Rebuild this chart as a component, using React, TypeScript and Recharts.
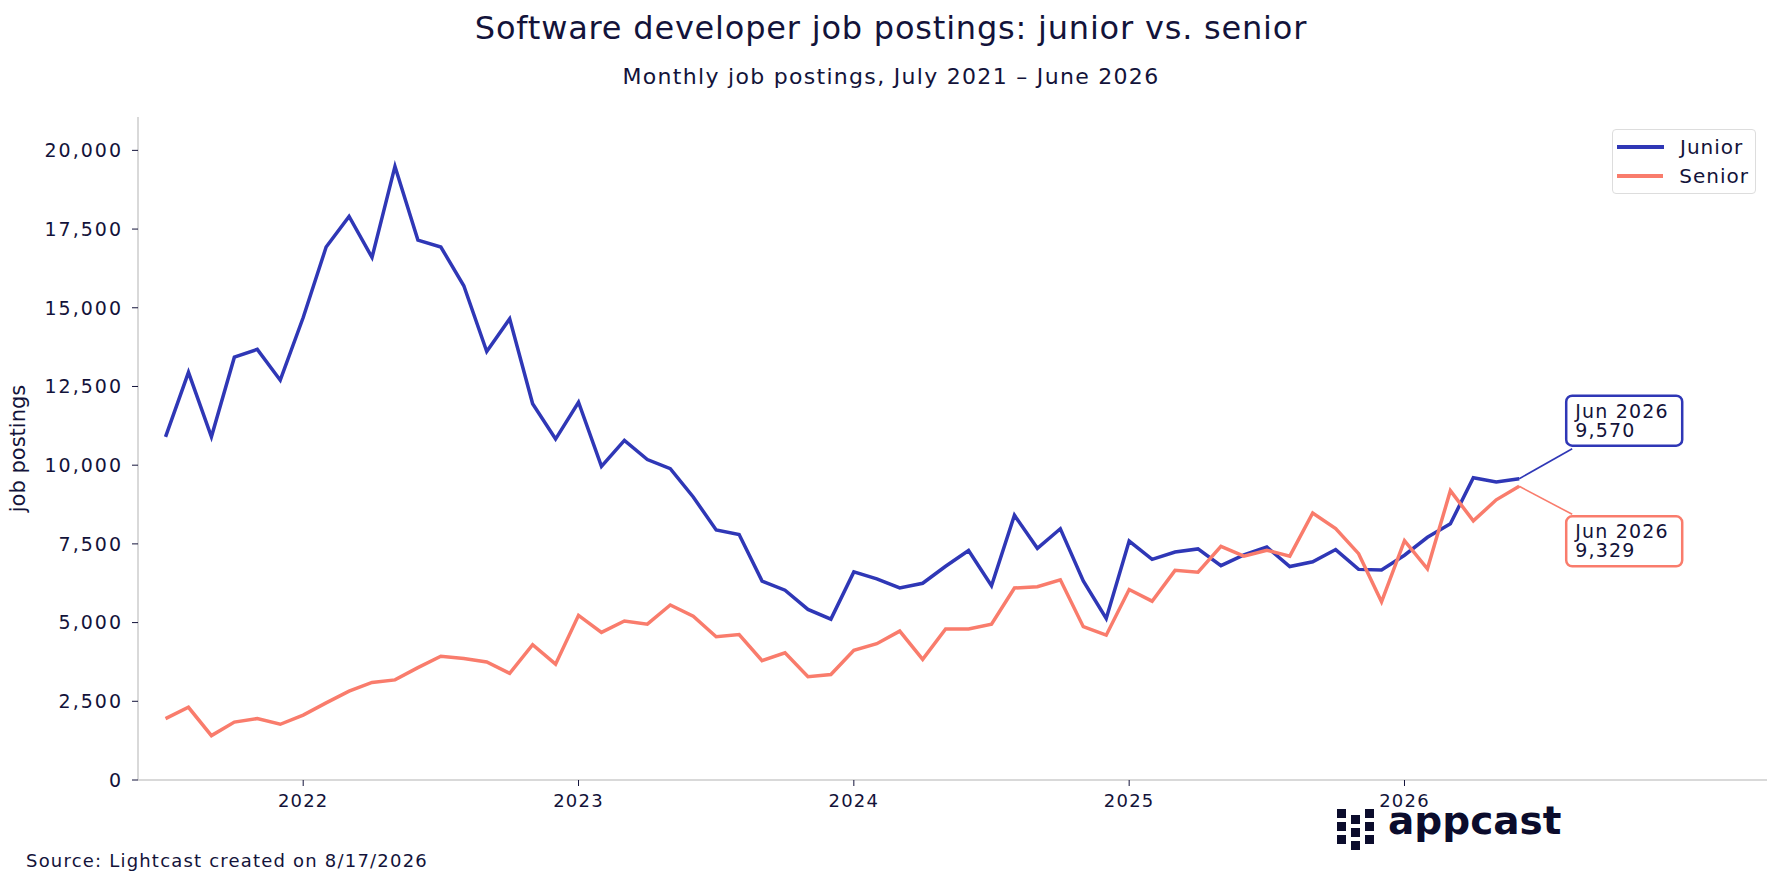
import { LineChart, Line, XAxis, YAxis, Legend } from 'recharts';

const monthLabels = [
    'Jul 2021', 'Aug 2021', 'Sep 2021', 'Oct 2021', 'Nov 2021', 'Dec 2021',
    'Jan 2022', 'Feb 2022', 'Mar 2022', 'Apr 2022', 'May 2022', 'Jun 2022',
    'Jul 2022', 'Aug 2022', 'Sep 2022', 'Oct 2022', 'Nov 2022', 'Dec 2022',
    'Jan 2023', 'Feb 2023', 'Mar 2023', 'Apr 2023', 'May 2023', 'Jun 2023',
    'Jul 2023', 'Aug 2023', 'Sep 2023', 'Oct 2023', 'Nov 2023', 'Dec 2023',
    'Jan 2024', 'Feb 2024', 'Mar 2024', 'Apr 2024', 'May 2024', 'Jun 2024',
    'Jul 2024', 'Aug 2024', 'Sep 2024', 'Oct 2024', 'Nov 2024', 'Dec 2024',
    'Jan 2025', 'Feb 2025', 'Mar 2025', 'Apr 2025', 'May 2025', 'Jun 2025',
    'Jul 2025', 'Aug 2025', 'Sep 2025', 'Oct 2025', 'Nov 2025', 'Dec 2025',
    'Jan 2026', 'Feb 2026', 'Mar 2026', 'Apr 2026', 'May 2026', 'Jun 2026',
];

const junior = [
    10900, 12950, 10900, 13430, 13680, 12700,
    14690, 16930, 17900, 16600, 19490, 17150,
    16930, 15700, 13610, 14650, 11950, 10830,
    12000, 9960, 10790, 10180, 9890, 8990,
    7940, 7800, 6320, 6030, 5420, 5110,
    6610, 6390, 6100, 6250, 6790, 7290,
    6170, 8410, 7360, 7980, 6320, 5130,
    7590, 7010, 7240, 7340, 6810, 7150,
    7400, 6780, 6930, 7320, 6690, 6670,
    7140, 7710, 8140, 9600, 9470, 9570,
];

const senior = [
    1950, 2310, 1410, 1840, 1950, 1770,
    2060, 2450, 2820, 3100, 3180, 3570,
    3930, 3860, 3750, 3390, 4300, 3680,
    5230, 4690, 5050, 4950, 5560, 5200,
    4550, 4620, 3790, 4040, 3280, 3350,
    4120, 4330, 4730, 3830, 4800, 4800,
    4950, 6100, 6140, 6360, 4870, 4600,
    6050, 5680, 6660, 6600, 7420, 7110,
    7300, 7110, 8480, 7990, 7190, 5660,
    7600, 6710, 9190, 8230, 8900, 9329,
];

const yearLabels = ['2022', '2023', '2024', '2025', '2026'];
const yTicks = [0, 2500, 5000, 7500, 10000, 12500, 15000, 17500, 20000];

const JUNIOR = '#2f37b6';
const SENIOR = '#f97c6c';
const INK = '#13133a';
const FONT = '"DejaVu Sans", sans-serif';

const data = monthLabels.map((label, i) => ({ m: i, label, junior: junior[i], senior: senior[i] }));
const yearTicks = yearLabels.map(y => monthLabels.indexOf(`Jan ${y}`));
const last = monthLabels.length - 1;

// call-out box attached to the final point of a series
const EndLabel = (props: any) => {
    const { x, y, index, value, color, up } = props;
    if (index !== last || x == null || y == null) return null;
    const ex = x + 53;
    const ey = up ? y - 30 : y + 28;
    const bx = x + 47;
    const by = up ? y - 83 : y + 30;
    return (
        <g>
            <line x1={x} y1={y} x2={ex} y2={ey} stroke={color} strokeWidth={1.6} />
            <rect x={bx} y={by} width={116} height={50} rx={6} fill="#fff" stroke={color} strokeWidth={2.5} />
            <text x={bx + 9} y={by + 22} fill={INK} fontSize={19} fontFamily={FONT} letterSpacing={1.2}>
                {monthLabels[index]}
            </text>
            <text x={bx + 9} y={by + 41} fill={INK} fontSize={19} fontFamily={FONT} letterSpacing={1.2}>
                {Number(value).toLocaleString('en-US')}
            </text>
        </g>
    );
};

const LegendBox = () => (
    <div style={{
        border: '1.5px solid #dddddd', borderRadius: 4, background: '#fff',
        padding: '2px 6px 2px 4px', fontFamily: FONT, fontSize: 20, color: INK,
        width: 144, height: 65, boxSizing: 'border-box'
    }}>
        {[{ name: 'Junior', c: JUNIOR }, { name: 'Senior', c: SENIOR }].map(s => (
            <div key={s.name} style={{ display: 'flex', alignItems: 'center', height: 29 }}>
                <span style={{ display: 'inline-block', width: 47, height: 4, background: s.c, marginRight: 16 }} />
                <span style={{ letterSpacing: 1 }}>{s.name}</span>
            </div>
        ))}
    </div>
);

const logoSquares = [
    [0, 0], [0, 13], [0, 26],
    [14, 6], [14, 19], [14, 32],
    [28, 0], [28, 13], [28, 26],
];

export default function App() {
    return (
        <div style={{ position: 'absolute', left: 0, top: 0, width: 1782, height: 893, background: '#fff', fontFamily: FONT, color: INK }}>
            <div style={{ position: 'absolute', top: 12, left: 0, width: 1782, textAlign: 'center', fontSize: 32, letterSpacing: 0.8, lineHeight: 1 }}>
                Software developer job postings: junior vs. senior
            </div>
            <div style={{ position: 'absolute', top: 66, left: 0, width: 1782, textAlign: 'center', fontSize: 22, letterSpacing: 1.3, lineHeight: 1 }}>
                Monthly job postings, July 2021 – June 2026
            </div>

            <LineChart width={1782} height={893} data={data} margin={{ top: 117, right: 15, bottom: 83, left: 0 }}>
                <XAxis
                    type="number"
                    dataKey="m"
                    domain={[-1.2, 69.8]}
                    ticks={yearTicks}
                    tickFormatter={(v) => monthLabels[v].slice(4)}
                    height={30}
                    axisLine={{ stroke: '#cccccc', strokeWidth: 1.5 }}
                    tickLine={{ stroke: INK }}
                    tickSize={6}
                    tickMargin={8}
                    tick={{ fill: INK, fontSize: 18, fontFamily: FONT, letterSpacing: 1.2 }}
                />
                <YAxis
                    domain={[0, 21060]}
                    ticks={yTicks}
                    width={138}
                    tickFormatter={(v) => v.toLocaleString('en-US')}
                    axisLine={{ stroke: '#cccccc', strokeWidth: 1.5 }}
                    tickLine={{ stroke: INK }}
                    tickSize={6}
                    tickMargin={9}
                    tick={{ fill: INK, fontSize: 19, fontFamily: FONT, letterSpacing: 2 }}
                    label={{ value: 'job postings', angle: -90, position: 'insideLeft', offset: 18, style: { fill: INK, fontSize: 21, fontFamily: FONT, textAnchor: 'middle' } }}
                />
                <Legend
                    layout="horizontal"
                    verticalAlign="middle"
                    align="center"
                    wrapperStyle={{ top: 129, left: 1612, width: 144, height: 65 }}
                    content={() => <LegendBox />}
                />
                <Line
                    type="linear"
                    dataKey="junior"
                    name="Junior"
                    stroke={JUNIOR}
                    strokeWidth={3.5}
                    dot={false}
                    isAnimationActive={false}
                    label={(p: any) => <EndLabel key={`j-${p.index}`} {...p} color={JUNIOR} up />}
                />
                <Line
                    type="linear"
                    dataKey="senior"
                    name="Senior"
                    stroke={SENIOR}
                    strokeWidth={3.5}
                    dot={false}
                    isAnimationActive={false}
                    label={(p: any) => <EndLabel key={`s-${p.index}`} {...p} color={SENIOR} up={false} />}
                />
            </LineChart>

            <div style={{ position: 'absolute', top: 852, left: 26, fontSize: 18, letterSpacing: 1.2, lineHeight: 1 }}>
                Source: Lightcast created on 8/17/2026
            </div>

            {/* appcast logo */}
            <div style={{ position: 'absolute', left: 1337, top: 809, width: 40, height: 42 }}>
                {logoSquares.map(([lx, ly], i) => (
                    <div key={i} style={{ position: 'absolute', left: lx, top: ly, width: 9, height: 9, background: '#0b0c2c' }} />
                ))}
            </div>
            <div style={{ position: 'absolute', left: 1388, top: 801, fontSize: 39, fontWeight: 700, lineHeight: 1, color: '#0b0c2c' }}>
                appcast
            </div>
        </div>
    );
}
